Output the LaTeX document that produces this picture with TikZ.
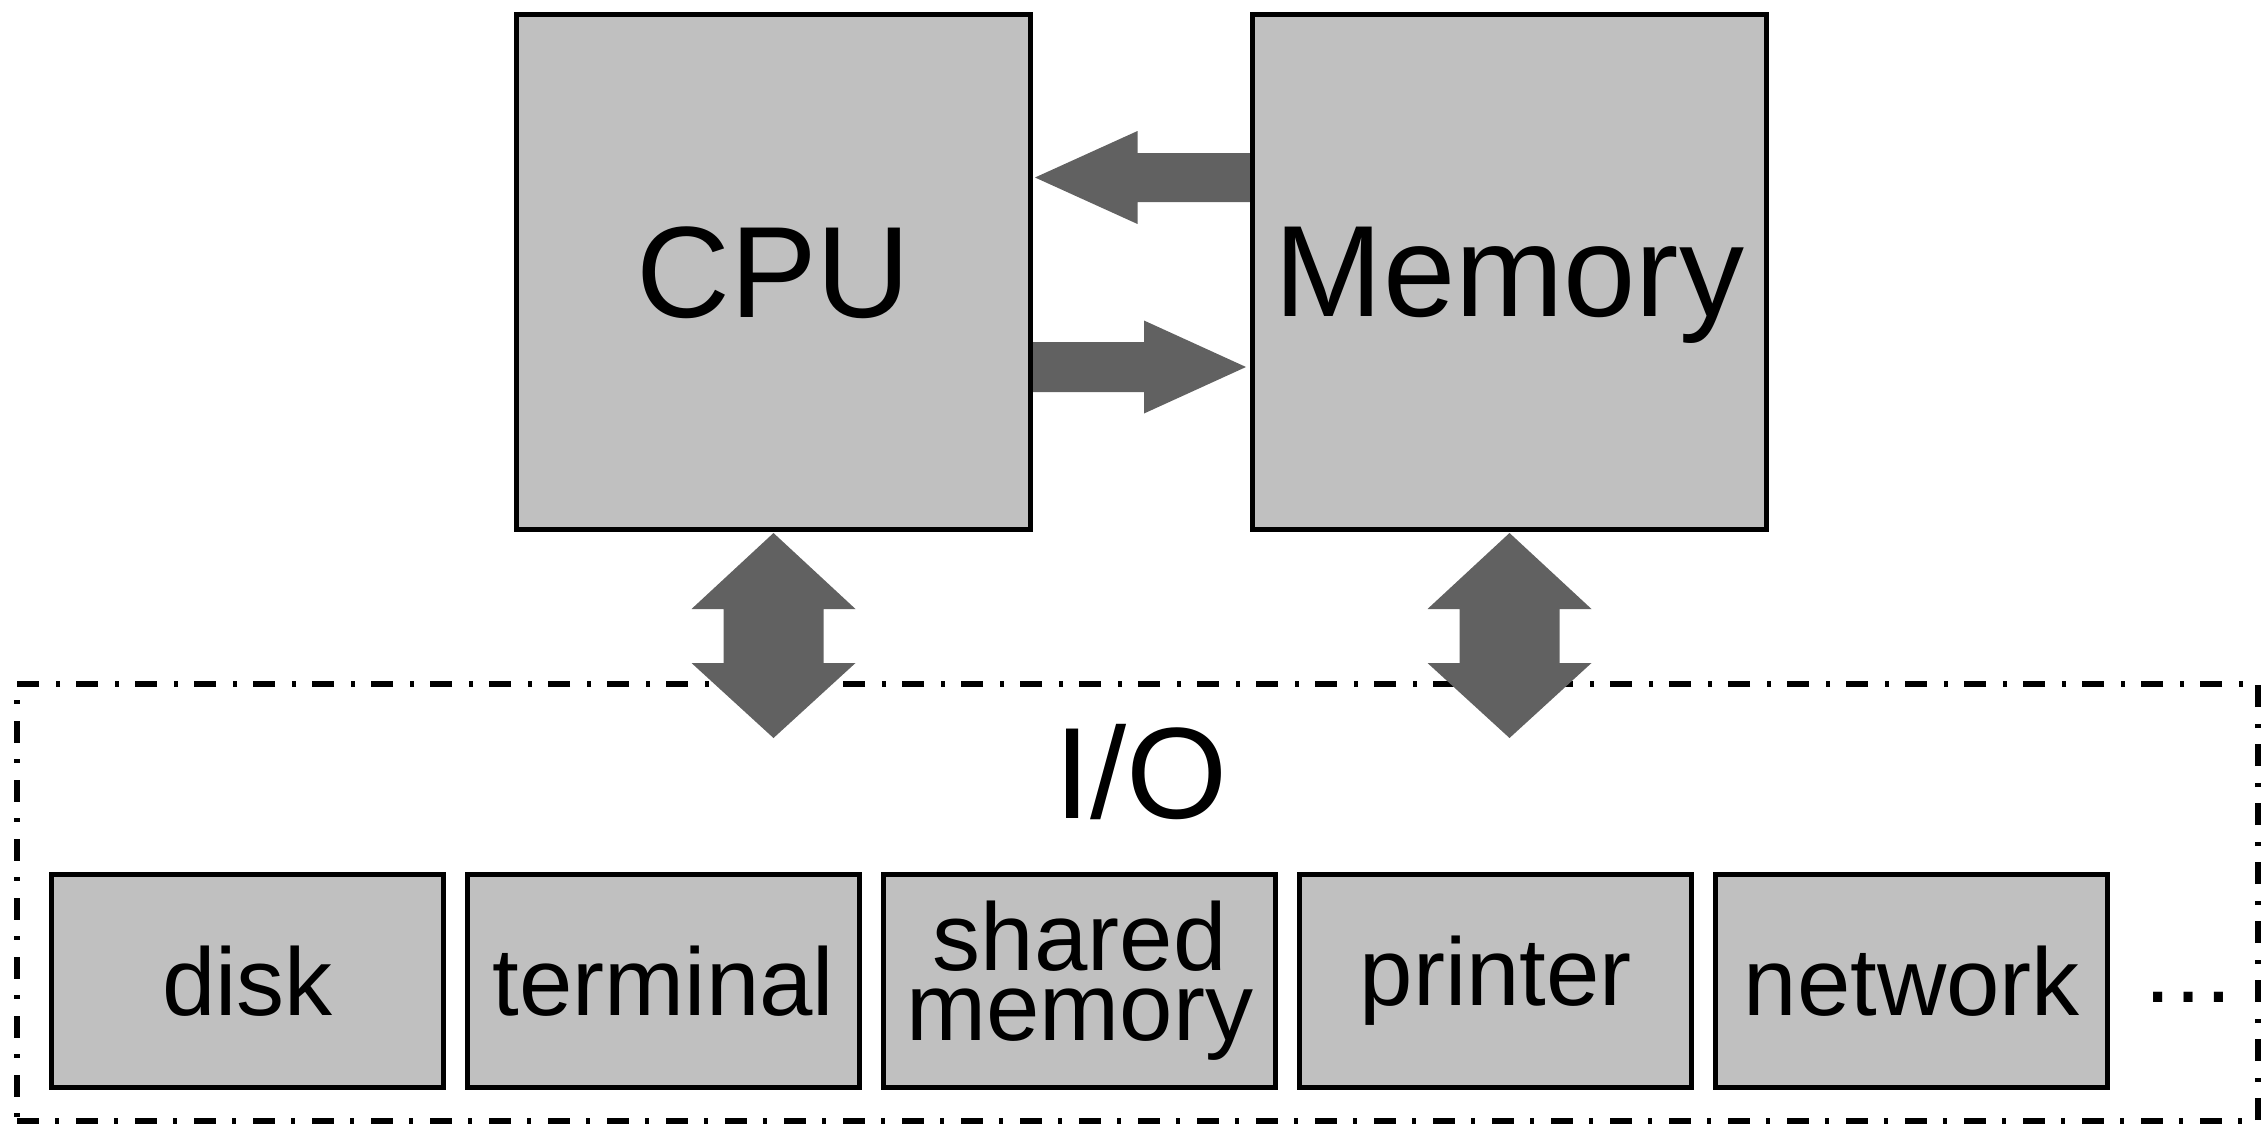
\documentclass[tikz,border=0pt]{standalone}
\usepackage{fontspec}
\setmainfont{Liberation Sans}
\usetikzlibrary{calc,backgrounds}
\definecolor{boxgray}{RGB}{192,192,192}
\definecolor{flowgray}{RGB}{97,97,97}
\begin{document}
\begin{tikzpicture}[x=0.5pt,y=-0.5pt,
  unit/.style={draw=black, line width=2.5pt, fill=boxgray, inner sep=0pt,
    minimum width=257pt, minimum height=257.5pt, text depth=0pt,
    font=\fontsize{65}{78}\selectfont},
  device/.style={draw=black, line width=2.5pt, fill=boxgray, inner sep=0pt,
    minimum width=196pt, minimum height=106.5pt, align=center,
    font=\fontsize{48}{35}\selectfont},
  flow/.style={fill=flowgray},
  iozone/.style={draw=black, line width=2.75pt,
    dash pattern=on 11pt off 8pt on 2pt off 8.5pt, inner sep=0pt,
    minimum width=1120.5pt, minimum height=218.5pt},
  bigtext/.style={font=\fontsize{65}{78}\selectfont, inner sep=0pt},
  smalltext/.style={font=\fontsize{48}{35}\selectfont, inner sep=0pt}
]
\useasboundingbox (0,0) rectangle (2263,1124);

% processor and main memory
\node[unit] (cpu) at (773.5,272) {CPU};
\node[unit] (mem) at (1509.5,272) {Memory};

% I/O devices
\node[bigtext, anchor=base] (iotitle) at (1141,818) {I/O};
\node[device] (disk) at (247.5,981) {disk};
\node[device] (term) at (663.6,981) {terminal};
\node[device] (shm)  at (1079.7,981) {shared\\memory};
\node[device] (prn)  at (1495.8,981) {printer};
\node[device] (net)  at (1911.9,981) {network};
\node[smalltext, anchor=base] (more) at (2188,1002) {…};

% ends of the I/O connections
\coordinate (cpuport) at (773.5,738);
\coordinate (memport) at (1509.5,738);

\begin{pgfonlayer}{background}
  % dash-dot frame around the I/O part
  \node[iozone] (io) at (1137.5,902.5) {};

  % memory -> cpu
  \fill[flow] ($(mem.west)+(3,-119)$) -- ++(-115.5,0) -- ++(0,-22)
    -- ($(cpu.east)+(2,-94.5)$) -- ++(102.5,46.5) -- ++(0,-22)
    -- ++(115.5,0) -- cycle;
  % cpu -> memory
  \fill[flow] ($(cpu.east)+(-3,70)$) -- ++(114,0) -- ++(0,-21.5)
    -- ($(mem.west)+(-4,95)$) -- ++(-102,46.5) -- ++(0,-21.5)
    -- ++(-114,0) -- cycle;

  % cpu <-> I/O
  \fill[flow] ($(cpu.south)+(0,1)$) -- ++(-82,76) -- ++(32,0) -- ++(0,54)
    -- ++(-32,0) -- (cpuport) -- ++(82,-75) -- ++(-32,0) -- ++(0,-54)
    -- ++(32,0) -- cycle;
  % memory <-> I/O
  \fill[flow] ($(mem.south)+(0,1)$) -- ++(-82,76) -- ++(32,0) -- ++(0,54)
    -- ++(-32,0) -- (memport) -- ++(82,-75) -- ++(-32,0) -- ++(0,-54)
    -- ++(32,0) -- cycle;
\end{pgfonlayer}
\end{tikzpicture}
\end{document}
